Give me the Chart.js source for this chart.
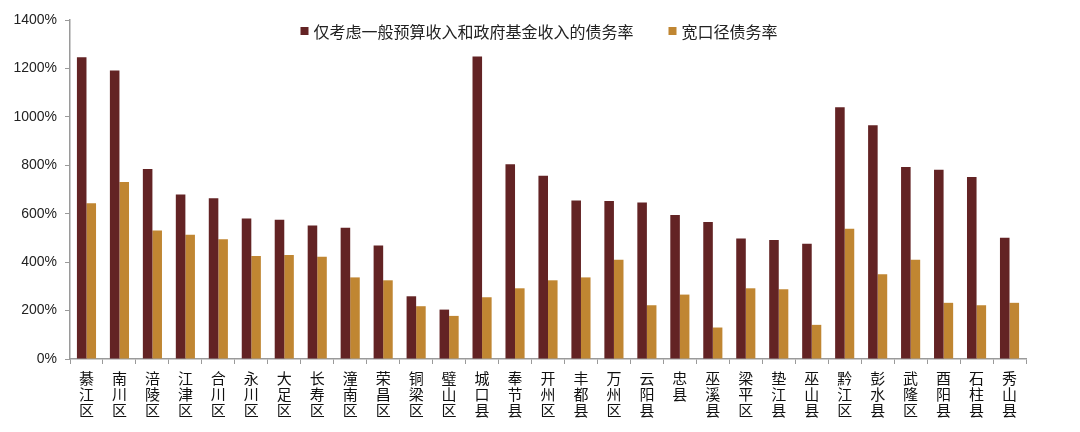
<!DOCTYPE html>
<html><head><meta charset="utf-8">
<script src="https://cdn.jsdelivr.net/npm/chart.js@4"></script>
<style>html,body{margin:0;padding:0;background:#fff}#wrap{width:1080px;height:432px}</style>
</head><body><div id="wrap"><canvas id="c" width="1080" height="432"></canvas></div>
<script>
const categories = ["綦江区","南川区","涪陵区","江津区","合川区","永川区","大足区","长寿区","潼南区","荣昌区","铜梁区","璧山区","城口县","奉节县","开州区","丰都县","万州区","云阳县","忠县","巫溪县","梁平区","垫江县","巫山县","黔江区","彭水县","武隆区","酉阳县","石柱县","秀山县"];
const seriesNames = ["仅考虑一般预算收入和政府基金收入的债务率","宽口径债务率"];
const narrowRate = [1246,1191,785,679,664,580,575,551,542,469,259,204,1249,804,757,655,653,646,595,566,498,491,476,1040,965,793,782,752,501];
const broadRate = [643,731,531,513,495,425,429,422,337,325,218,178,255,292,325,337,410,222,266,130,292,288,141,538,350,410,232,222,232];
const yTicks = [0,200,400,600,800,1000,1200,1400];

const labels = categories.map(s => s.split(""));
const font = "'Noto Sans CJK SC','Liberation Sans',sans-serif";

const topLegend = {
  id: 'topLegend',
  afterDraw(chart) {
    const ctx = chart.ctx;
    ctx.save();
    ctx.font = "16px " + font;
    ctx.textBaseline = 'middle';
    const box = 8, gap = 5, itemGap = 35, cy = 31;
    const items = chart.data.datasets.map(d => ({text: d.label, color: d.backgroundColor, w: ctx.measureText(d.label).width}));
    let total = items.reduce((a, it) => a + box + gap + it.w, 0) + itemGap * (items.length - 1);
    let x = 539 - total / 2;
    items.forEach(it => {
      ctx.fillStyle = it.color;
      ctx.fillRect(x, cy - box / 2, box, box);
      x += box + gap;
      ctx.fillStyle = '#222';
      ctx.fillText(it.text, x, cy + 1);
      x += it.w + itemGap;
    });
    ctx.restore();
  }
};

new Chart(document.getElementById('c'), {
  type: 'bar',
  data: {
    labels: labels,
    datasets: [
      {label: seriesNames[0], data: narrowRate, backgroundColor: '#632324', barPercentage: 1.0, categoryPercentage: 0.58},
      {label: seriesNames[1], data: broadRate, backgroundColor: '#C08632', barPercentage: 1.0, categoryPercentage: 0.58}
    ]
  },
  plugins: [topLegend],
  options: {
    responsive: false,
    animation: false,
    layout: {padding: {left: 0, right: 54, top: 20, bottom: 0}},
    plugins: {
      tooltip: {enabled: false},
      legend: {display: false}
    },
    scales: {
      x: {
        grid: {display: true, drawOnChartArea: false, drawTicks: true, tickLength: 5, color: '#9a9a9a', offset: true},
        border: {color: '#9a9a9a', width: 1.5},
        ticks: {color: '#111', font: {family: font, size: 15, lineHeight: 1.07}, maxRotation: 0, autoSkip: false, padding: 6},
        afterFit: s => { s.height = 73; }
      },
      y: {
        min: 0, max: 1400,
        afterBuildTicks: s => { s.ticks = yTicks.map(v => ({value: v})); },
        grid: {display: true, drawOnChartArea: false, tickLength: 5, color: '#9a9a9a'},
        border: {color: '#9a9a9a', width: 1.5},
        ticks: {color: '#222', font: {family: "'Liberation Sans',sans-serif", size: 14}, padding: 8, callback: v => v + '%'},
        afterFit: s => { s.width = 70; }
      }
    }
  }
});
</script></body></html>
